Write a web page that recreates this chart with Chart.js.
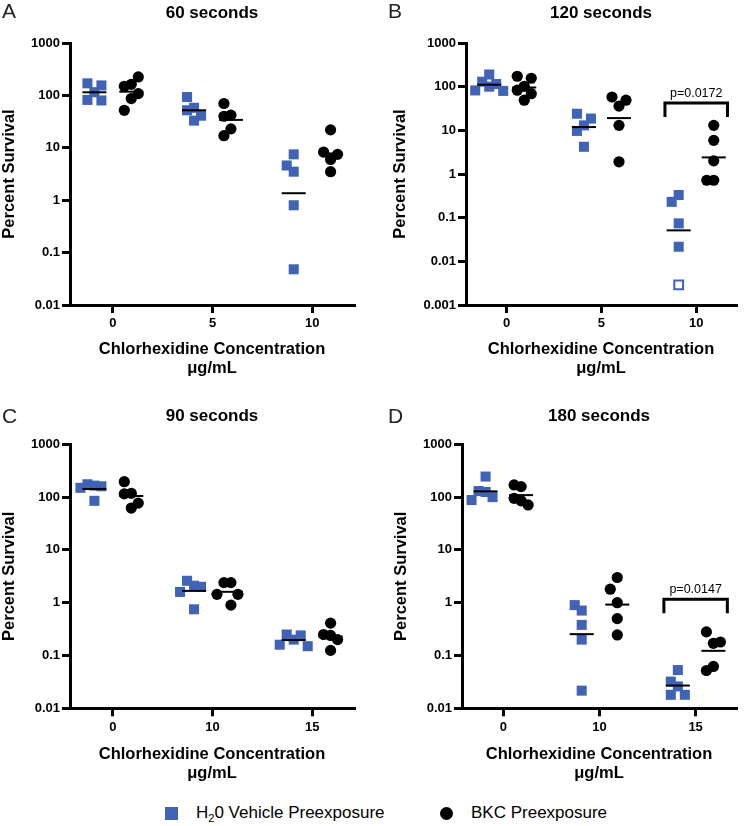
<!DOCTYPE html>
<html>
<head>
<meta charset="utf-8">
<script src="https://cdn.jsdelivr.net/npm/chart.js@4.4.0/dist/chart.umd.min.js"></script>
<style>
  body { margin: 0; background: #fff; width: 750px; height: 826px; position: relative; overflow: hidden;
         font-family: "Liberation Sans", Arial, sans-serif; }
  .panel { position: absolute; width: 375px; height: 385px; }
  .lg-text { position: absolute; top: 803px; font-size: 17px; line-height: 20px; color: #000; white-space: nowrap; }
  .lg-text sub { font-size: 11px; line-height: 0; vertical-align: -4px; }
  .lg-square { position: absolute; left: 165px; top: 807px; width: 13px; height: 13px; background: #4163b5; }
  .lg-circle { position: absolute; left: 440px; top: 807px; width: 13px; height: 13px; border-radius: 50%; background: #000; }
</style>
</head>
<body>
<div class="panel" style="left:0;top:0"><canvas id="chartA" width="375" height="385"></canvas></div>
<div class="panel" style="left:375px;top:0"><canvas id="chartB" width="375" height="385"></canvas></div>
<div class="panel" style="left:0;top:400px"><canvas id="chartC" width="375" height="385"></canvas></div>
<div class="panel" style="left:375px;top:400px"><canvas id="chartD" width="375" height="385"></canvas></div>

<div class="lg-square"></div>
<div class="lg-text" style="left:196px">H<sub>2</sub>0 Vehicle Preexposure</div>
<div class="lg-circle"></div>
<div class="lg-text" style="left:471px">BKC Preexposure</div>

<script>
// ========== DATA ==========
// A - 60 seconds
const aConc = ['0', '5', '10'];
const aTicks = [0.01, 0.1, 1, 10, 100, 1000];
const aH2o = [[115, 170, 155, 82, 80], [58, 52, 93, 41, 33], [7.5, 4.6, 3.5, 0.8, 0.048]];
const aBkc = [[163, 149, 225, 108, 87, 52], [42, 40, 70, 23, 17], [6.0, 8.3, 7.5, 22, 3.5]];

// B - 120 seconds
const bConc = ['0', '5', '10'];
const bTicks = [0.001, 0.01, 0.1, 1, 10, 100, 1000];
const bH2o = [[100, 190, 130, 115, 82, 80], [13, 24, 18.6, 9.7, 4.2], [0.074, 0.33, 0.23, 0.0216]];
const bH2oOpen = [[], [], [0.0029]];
const bBkc = [[102, 173, 156, 83, 69, 49], [36, 58, 49, 13, 1.9], [2.0, 13, 5.9, 0.72, 0.72]];
const bPValue = 'p=0.0172';

// C - 90 seconds
const cConc = ['0', '10', '15'];
const cTicks = [0.01, 0.1, 1, 10, 100, 1000];
const cH2o = [[165, 175, 160, 150, 85], [2.1, 2.6, 2.0, 1.6, 0.75], [0.2, 0.25, 0.24, 0.16, 0.15]];
const cBkc = [[118, 115, 196, 77, 62], [2.4, 2.4, 1.44, 1.44, 0.9], [0.24, 0.25, 0.41, 0.2, 0.125]];

// D - 180 seconds
const dConc = ['0', '10', '15'];
const dTicks = [0.01, 0.1, 1, 10, 100, 1000];
const dH2o = [[125, 245, 130, 100, 88], [0.71, 0.9, 0.38, 0.2, 0.0216], [0.026, 0.053, 0.032, 0.018, 0.018]];
const dBkc = [[158, 170, 95, 85, 71], [1.0, 3.0, 1.8, 0.5, 0.245], [0.17, 0.28, 0.18, 0.062, 0.052]];
const dPValue = 'p=0.0147';

// ========== STYLE / LAYOUT ==========
const BLUE = '#4163b5';
const FONT = '"Liberation Sans", Arial, sans-serif';
const COL_OFF = 0.185;     // blue left / black right of each tick
const STEP_PX = 7;         // horizontal spread of crowded points
const GAP_PX = 12;         // vertical distance that counts as crowded

function geoMean(vals) {
  return Math.pow(10, vals.reduce((s, v) => s + Math.log10(v), 0) / vals.length);
}

const swarmSlots = [0, -1, 1, -2, 2, -3, 3];

// spread points that sit too close, like a column scatter
function spread(chart) {
  const xs = chart.scales.x, ys = chart.scales.y;
  chart.data.datasets.forEach(ds => {
    if (!ds.swarm) return;
    const placed = [];
    ds.data.forEach(p => {
      const py = ys.getPixelForValue(p.y);
      let slot = 0;
      for (const s of swarmSlots) {
        const hit = placed.some(q => q.col === p.col && q.slot === s && Math.abs(q.py - py) < GAP_PX);
        if (!hit) { slot = s; break; }
      }
      placed.push({ col: p.col, slot, py });
      p.x = xs.getValueForPixel(xs.getPixelForValue(p.col) + slot * STEP_PX);
    });
  });
  chart.update('none');
}

// panel letter + significance bracket
const extras = {
  id: 'extras',
  afterDraw(chart) {
    const o = chart.options.plugins.extras;
    const ctx = chart.ctx;
    ctx.save();
    ctx.fillStyle = '#222';
    ctx.font = '21px ' + FONT;
    ctx.textAlign = 'left';
    ctx.textBaseline = 'alphabetic';
    ctx.fillText(o.letter, o.letterX, o.letterY);
    if (o.pText) {
      const xs = chart.scales.x, ys = chart.scales.y;
      const x1 = xs.getPixelForValue(o.pGroup - 0.33);
      const x2 = xs.getPixelForValue(o.pGroup + 0.33);
      const y = ys.getPixelForValue(o.bracketAt);
      ctx.strokeStyle = '#000';
      ctx.lineWidth = 3;
      ctx.beginPath();
      ctx.moveTo(x1, y + 14);
      ctx.lineTo(x1, y);
      ctx.lineTo(x2, y);
      ctx.lineTo(x2, y + 14);
      ctx.stroke();
      ctx.fillStyle = '#000';
      ctx.font = '12.5px ' + FONT;
      ctx.textAlign = 'center';
      ctx.textBaseline = 'middle';
      ctx.fillText(o.pText, (x1 + x2) / 2, y - 10);
    }
    ctx.restore();
  }
};

function makePanel(id, p) {
  const h2oPts = [], bkcPts = [], means = [];
  p.h2o.forEach((vals, g) => {
    const open = (p.h2oOpen && p.h2oOpen[g]) || [];
    vals.forEach(v => h2oPts.push({ x: g - COL_OFF, y: v, col: g - COL_OFF, open: false }));
    open.forEach(v => h2oPts.push({ x: g - COL_OFF, y: v, col: g - COL_OFF, open: true }));
    means.push({ x: g - COL_OFF, y: geoMean(vals.concat(open)) });
  });
  p.bkc.forEach((vals, g) => {
    vals.forEach(v => bkcPts.push({ x: g + COL_OFF, y: v, col: g + COL_OFF }));
    means.push({ x: g + COL_OFF, y: geoMean(vals) });
  });

  const chart = new Chart(document.getElementById(id), {
    type: 'scatter',
    data: {
      datasets: [
        { label: 'mean', data: means, pointStyle: 'line', pointRadius: 12, borderColor: '#000',
          borderWidth: 2, order: 0, clip: false },
        { label: 'H2O', data: h2oPts, swarm: true, pointStyle: 'rect', order: 1, clip: false,
          pointRadius: c => (c.raw && c.raw.open ? 6.2 : 7.1),
          backgroundColor: c => (c.raw && c.raw.open ? '#fff' : BLUE),
          borderColor: BLUE,
          borderWidth: c => (c.raw && c.raw.open ? 2 : 0) },
        { label: 'BKC', data: bkcPts, swarm: true, pointStyle: 'circle', pointRadius: 5.6,
          backgroundColor: '#000', borderWidth: 0, order: 1, clip: false }
      ]
    },
    options: {
      responsive: false,
      animation: false,
      events: [],
      layout: { padding: { left: 0, top: 0, bottom: 0, right: p.padRight } },
      plugins: {
        legend: { display: false },
        tooltip: { enabled: false },
        title: {
          display: true, text: p.title, fullSize: false, color: '#000',
          font: { family: FONT, size: 17, weight: 'bold', lineHeight: 1.2 },
          padding: { top: p.titlePadTop, bottom: p.titlePadBottom }
        },
        extras: { letter: p.letter, letterX: p.letterX, letterY: p.letterY,
                  pText: p.pText, pGroup: 2, bracketAt: p.bracketAt }
      },
      scales: {
        x: {
          type: 'linear', min: -0.43, max: 2.42,
          afterBuildTicks: s => { s.ticks = [0, 1, 2].map(v => ({ value: v })); },
          afterFit: s => { s.height = p.xAxisHeight; },
          ticks: { callback: v => p.conc[v], color: '#000', padding: 3,
                   font: { family: FONT, size: 13, weight: 'bold' }, maxRotation: 0 },
          grid: { drawOnChartArea: false, drawTicks: true, tickLength: 8, tickWidth: 3,
                  tickColor: '#000', lineWidth: 3, color: '#000' },
          border: { display: true, width: 3, color: '#000' },
          title: { display: true, text: ['Chlorhexidine Concentration', 'μg/mL'], color: '#000',
                   font: { family: FONT, size: 16.5, weight: 'bold', lineHeight: 1.15 },
                   padding: { top: 0, bottom: p.xTitlePad } }
        },
        y: {
          type: 'logarithmic', min: p.ticks[0], max: p.ticks[p.ticks.length - 1],
          afterBuildTicks: s => { s.ticks = p.ticks.map(v => ({ value: v })); },
          afterFit: s => { s.width = p.yAxisWidth; },
          ticks: { callback: v => String(v), color: '#000', padding: 2,
                   font: { family: FONT, size: 13, weight: 'bold' } },
          grid: { drawOnChartArea: false, drawTicks: true, tickLength: 8, tickWidth: 3,
                  tickColor: '#000', lineWidth: 3, color: '#000' },
          border: { display: true, width: 3, color: '#000' },
          title: { display: true, text: 'Percent Survival', color: '#000',
                   font: { family: FONT, size: 16.5, weight: 'bold' },
                   padding: { top: p.yTitlePad, bottom: 0 } }
        }
      }
    },
    plugins: [extras]
  });
  spread(chart);
}

const topRow = { titlePadTop: 3.5, titlePadBottom: 19.1, xAxisHeight: 80, xTitlePad: 7.5, letterY: 18 };
const botRow = { titlePadTop: 5.9, titlePadBottom: 18, xAxisHeight: 76.7, xTitlePad: 2.5, letterY: 23 };

makePanel('chartA', Object.assign({}, topRow, {
  title: '60 seconds', letter: 'A', conc: aConc, ticks: aTicks, h2o: aH2o, bkc: aBkc,
  yAxisWidth: 70, yTitlePad: 0, padRight: 21, letterX: 2 }));
makePanel('chartB', Object.assign({}, topRow, {
  title: '120 seconds', letter: 'B', conc: bConc, ticks: bTicks, h2o: bH2o, h2oOpen: bH2oOpen, bkc: bBkc,
  pText: bPValue, bracketAt: 42,
  yAxisWidth: 91, yTitlePad: 15.2, padRight: 3, letterX: 13 }));
makePanel('chartC', Object.assign({}, botRow, {
  title: '90 seconds', letter: 'C', conc: cConc, ticks: cTicks, h2o: cH2o, bkc: cBkc,
  yAxisWidth: 70, yTitlePad: 0, padRight: 21, letterX: 2 }));
makePanel('chartD', Object.assign({}, botRow, {
  title: '180 seconds', letter: 'D', conc: dConc, ticks: dTicks, h2o: dH2o, bkc: dBkc,
  pText: dPValue, bracketAt: 1.16,
  yAxisWidth: 87, yTitlePad: 16.2, padRight: 5, letterX: 13 }));
</script>
</body>
</html>
